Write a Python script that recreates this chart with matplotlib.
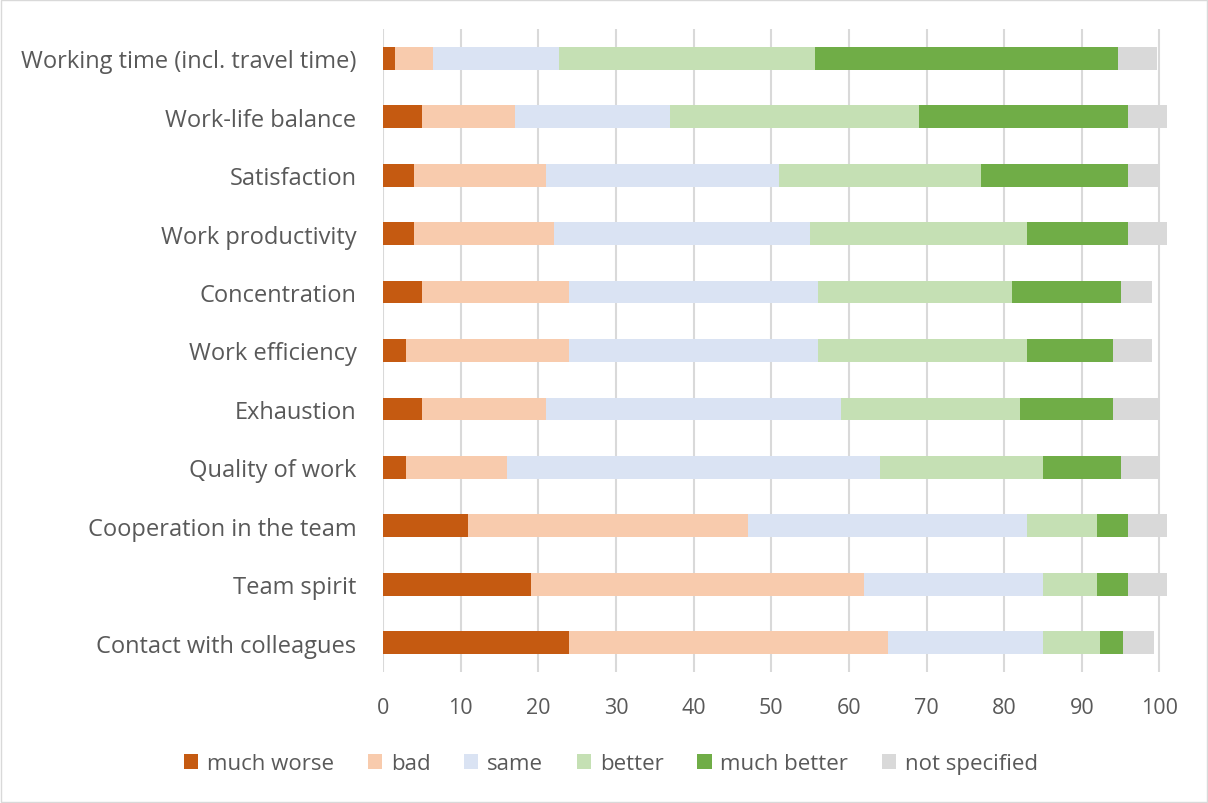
import matplotlib.pyplot as plt
import numpy as np

plt.rcParams['font.family'] = ['Open Sans', 'DejaVu Sans']

categories = ['Working time (incl. travel time)', 'Work-life balance', 'Satisfaction',
              'Work productivity', 'Concentration', 'Work efficiency', 'Exhaustion',
              'Quality of work', 'Cooperation in the team', 'Team spirit',
              'Contact with colleagues']

series_names = ['much worse', 'bad', 'same', 'better', 'much better', 'not specified']
colors = ['#C55A11', '#F8CBAD', '#DAE3F3', '#C5E0B4', '#70AD47', '#D9D9D9']

much_worse = [1.6, 5, 4, 4, 5, 3, 5, 3, 11, 19, 24]
bad = [4.9, 12, 17, 18, 19, 21, 16, 13, 36, 43, 41]
same = [16.2, 20, 30, 33, 32, 32, 38, 48, 36, 23, 20]
better = [33, 32, 26, 28, 25, 27, 23, 21, 9, 7, 7.3]
much_better = [39, 27, 19, 13, 14, 11, 12, 10, 4, 4, 3]
not_specified = [5, 5, 4, 5, 4, 5, 6, 5, 5, 5, 4]

values = [much_worse, bad, same, better, much_better, not_specified]

fig = plt.figure(figsize=(12.08, 8.04), dpi=100)
ax = fig.add_axes([383 / 1208, 1 - 673 / 804, (1175 - 383) / 1208, (673 - 30) / 804])

y = np.arange(len(categories))
left = np.zeros(len(categories))
for name, vals, col in zip(series_names, values, colors):
    vals = np.array(vals, dtype=float)
    ax.barh(y, vals, left=left, height=0.39, color=col, label=name, zorder=3)
    left += vals

ax.set_ylim(len(categories) - 0.5, -0.5)
ax.set_xlim(0, 102)
ax.set_xticks(np.arange(0, 101, 10))
ax.set_yticks(y)
ax.set_yticklabels(categories)
ax.tick_params(axis='both', length=0, colors='#595959')
ax.tick_params(axis='x', pad=18, labelsize=15.5)
ax.tick_params(axis='y', pad=19, labelsize=17)
ax.grid(axis='x', color='#D9D9D9', linewidth=1.5, zorder=0)
for s in ax.spines.values():
    s.set_visible(False)

leg = fig.legend(loc='center', bbox_to_anchor=(611 / 1208, 1 - 765 / 804), ncol=6,
                 frameon=False, fontsize=16, handlelength=0.65, handleheight=0.65,
                 handletextpad=0.4, columnspacing=1.5)
for t in leg.get_texts():
    t.set_color('#595959')

# light border round the chart area
fig.patches.append(plt.Rectangle((0.001, 0.001), 0.998, 0.998, transform=fig.transFigure,
                                 fill=False, edgecolor='#D9D9D9', linewidth=1))

fig.savefig('out.png', dpi=100)
